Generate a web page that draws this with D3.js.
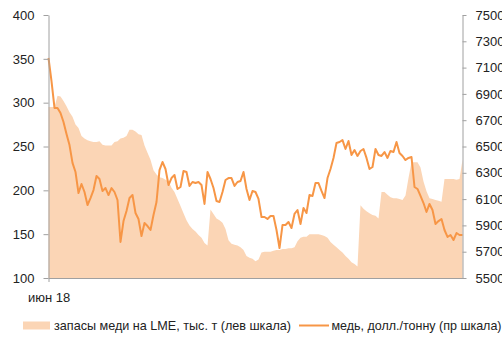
<!DOCTYPE html>
<html><head><meta charset="utf-8">
<script src="https://cdn.jsdelivr.net/npm/d3@7"></script>
<style>
body{margin:0;background:#fff}
svg{display:block}
text{font-family:"Liberation Sans",Arial,sans-serif;fill:#222}
</style>
</head><body>
<svg id="c" width="502" height="339"></svg>
<script>
// LME copper stocks, thousand t (left scale), sampled every 2 trading days from June 2018
const stocks = [
295,295,295,308,307,302,296,289,284,275,
271,262,259,257,256,255,255,256,252,251,
251,251,255,256,259,260,262,269,269,267,
264,263,251,243,235,223,218,215,214,212,
210,203,198,190,182,174,166,160,156,153,
149,146,140,137,178,173,168,166,163,156,
143,139,138,137,135,132,125,123,122,119,
121,129,130,130,130,131,132,132,133,133,
134,134,135,142,146,147,147,150,150,150,
150,149,148,146,141,138,135,132,129,125,
122,118,116,113,183,179,176,174,172,171,
168,198,198,195,192,191,191,190,189,194,
214,232,232,232,226,210,199,191,190,189,
188,187,213,213,213,213,212,213,235
];
// Copper price, USD/t (right scale)
const prices = [
7173,6998,6793,6793,6755,6686,6595,6511,6375,6306,
6146,6215,6154,6055,6108,6169,6276,6253,6162,6184,
6131,6184,6154,6093,5774,5933,6009,6108,6131,5994,
5949,5819,5918,5895,5865,5979,6078,6321,6382,6329,
6207,6260,6283,6177,6192,6314,6306,6200,6230,6222,
6230,6207,6063,6306,6253,6184,6086,6078,6154,6245,
6260,6260,6200,6230,6238,6306,6177,6093,6162,6154,
6101,5964,5964,5949,5971,5971,5865,5728,5903,5903,
5926,5880,5987,6017,5911,6032,5994,6131,6124,6222,
6222,6162,6108,6260,6329,6413,6527,6534,6549,6481,
6542,6435,6473,6428,6466,6481,6413,6329,6344,6481,
6435,6428,6458,6413,6466,6458,6534,6451,6428,6397,
6413,6420,6192,6177,6124,6070,6002,6063,6017,5911,
5933,5949,5865,5812,5827,5789,5842,5827,5827
];
const leftTicks = [100,150,200,250,300,350,400];
const rightTicks = [5500,5700,5900,6100,6300,6500,6700,6900,7100,7300,7500];
const xTickIndex = [0];
const xTickLabels = ["июн 18"];
const legendLabels = ["запасы меди на LME, тыс. т (лев шкала)", "медь, долл./тонну (пр шкала)"];

const areaColor = "#FBD5B5", lineColor = "#F79646", axisColor = "#A0A0A0";
const svg = d3.select("#c");
const x = d3.scaleLinear().domain([0, prices.length - 1]).range([48.5, 462.5]);
const yL = d3.scaleLinear().domain([100, 400]).range([278, 15]);
const yR = d3.scaleLinear().domain([5500, 7500]).range([278, 15]);

svg.append("path").datum(stocks)
  .attr("fill", areaColor)
  .attr("d", d3.area().x((d,i)=>x(i)).y0(yL(100)).y1(d=>yL(d)));

svg.append("path").datum(prices)
  .attr("fill", "none").attr("stroke", lineColor).attr("stroke-width", 2)
  .attr("stroke-linejoin", "round")
  .attr("d", d3.line().x((d,i)=>x(i)).y(d=>yR(d)));

function styleAxis(g){
  g.selectAll("path,line").attr("stroke", axisColor);
  g.selectAll("text").attr("font-size", 13).attr("fill", "#222")
   .attr("font-family", '"Liberation Sans",Arial,sans-serif');
}
svg.append("g").attr("transform","translate(48.5,0)")
  .call(d3.axisLeft(yL).tickValues(leftTicks).tickFormat(d3.format("d")).tickSize(5).tickSizeOuter(0).tickPadding(9))
  .call(styleAxis);
svg.append("g").attr("transform","translate(462.5,0)")
  .call(d3.axisRight(yR).tickValues(rightTicks).tickFormat(d3.format("d")).tickSize(4).tickSizeOuter(0).tickPadding(9))
  .call(styleAxis);
svg.append("g").attr("transform","translate(0,278)")
  .call(d3.axisBottom(x).tickValues(xTickIndex).tickFormat((d,i)=>xTickLabels[i]).tickSize(4).tickSizeOuter(0).tickPadding(11))
  .call(styleAxis);

// legend
const lg = svg.append("g");
lg.append("rect").attr("x",23).attr("y",321.5).attr("width",27).attr("height",8).attr("fill",areaColor);
lg.append("text").attr("x",54).attr("y",325.5).attr("dy","0.35em").attr("font-size",13)
  .attr("textLength",237).attr("lengthAdjust","spacingAndGlyphs").text(legendLabels[0]);
lg.append("line").attr("x1",299).attr("x2",329).attr("y1",325.5).attr("y2",325.5)
  .attr("stroke",lineColor).attr("stroke-width",2);
lg.append("text").attr("x",331.5).attr("y",325.5).attr("dy","0.35em").attr("font-size",13)
  .attr("textLength",170).attr("lengthAdjust","spacingAndGlyphs").text(legendLabels[1]);
</script>
</body></html>
